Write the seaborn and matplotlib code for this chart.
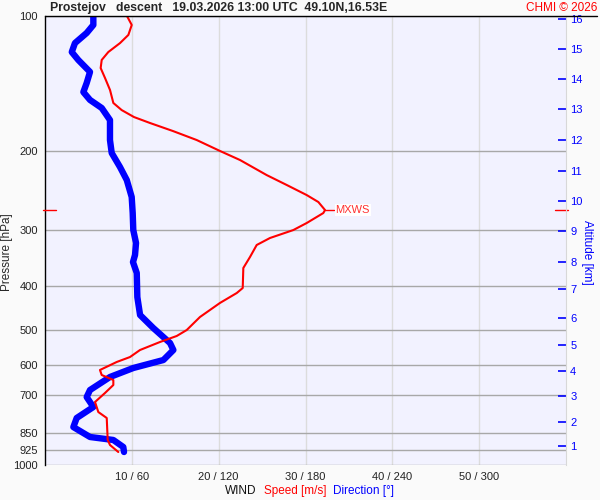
import numpy as np
import pandas as pd
import seaborn as sns
import matplotlib.pyplot as plt
from matplotlib.lines import Line2D

# Wind speed profile: pressure [hPa] / speed [m/s]
speed_p = [100, 104.7, 110.2, 114.9, 120.3, 125.3, 130.6, 137.4, 146.2, 156.2,
           162.0, 167.9, 173.1, 180.4, 188.9, 199.8, 209.3, 226.1, 237.9, 250.5,
           259.6, 270.5, 274.7, 289.1, 299.7, 312.2, 323.6, 344.1, 364.1, 403.5,
           414.0, 435.6, 468.1, 500.5, 516.0, 532.2, 554.5, 574.8, 589.6, 614.3,
           630.3, 646.7, 663.5, 691.2, 723.9, 762.1, 785.8, 879.6, 902.7, 935.5]
speed_ms = [9.44, 9.99, 9.60, 8.64, 7.29, 6.53, 6.41, 6.91, 7.49, 7.87,
            8.83, 10.25, 12.09, 14.74, 17.47, 20.15, 22.46, 25.53, 27.84, 30.14,
            31.48, 32.25, 32.05, 30.14, 28.60, 25.91, 24.38, 23.61, 22.84, 22.77,
            22.08, 20.15, 17.85, 16.32, 15.17, 13.24, 10.94, 9.79, 8.26, 6.33,
            6.53, 7.87, 7.87, 6.91, 5.76, 6.14, 7.11, 7.22, 7.49, 8.44]

# Wind direction profile: pressure [hPa] / direction [deg]
dir_p = [100, 104.7, 109.1, 114.9, 120.3, 125.3, 133.2, 141.0, 147.7, 153.8,
         160.3, 170.5, 188.9, 201.9, 216.9, 231.9, 253.0, 274.7, 299.7, 320.3,
         340.7, 353.2, 373.6, 422.6, 463.4, 495.3, 535.0, 554.5, 583.7, 608.1,
         636.8, 680.8, 705.8, 742.7, 785.8, 823.2, 866.2, 879.6, 911.9, 935.5]
dir_deg = [33.4, 33.4, 28.8, 20.7, 18.5, 23.0, 31.1, 28.8, 26.5, 31.1,
           39.2, 44.9, 44.9, 46.1, 51.8, 56.5, 59.9, 60.6, 61.0, 62.9,
           62.2, 60.8, 63.4, 63.8, 65.7, 74.8, 86.4, 88.7, 81.8, 61.0,
           44.9, 31.1, 28.8, 33.4, 21.9, 19.6, 31.1, 47.2, 54.1, 54.6]

# Altitude scale on the right
alt_km = [1, 2, 3, 4, 5, 6, 7, 8, 9, 10, 11, 12, 13, 14, 15, 16]
alt_p = [906, 801, 701, 617.4, 539.6, 469.8, 406.1, 352.6, 301.2, 258.6,
         221.1, 189.1, 161.4, 138.3, 118.6, 101.5]

p_ticks = [100, 200, 300, 400, 500, 600, 700, 850, 925, 1000]
speed_ticks = [10, 20, 30, 40, 50]

title = "Prostejov   descent   19.03.2026 13:00 UTC  49.10N,16.53E"

sns.set_style("white")
plt.rcParams["font.family"] = ["Liberation Sans", "DejaVu Sans"]

spd = pd.DataFrame({"p": speed_p, "speed": speed_ms})
wdir = pd.DataFrame({"p": dir_p, "dir": dir_deg})

fig = plt.figure(figsize=(6, 5), dpi=100, facecolor="#fafafa")
ax = fig.add_axes([45 / 600, 1 - 465 / 500, 521 / 600, 449 / 500])
ax.set_facecolor("#f2f2ff")

# direction axis (0-360) is the base, speed axis (0-60) sits on top
sns.lineplot(data=wdir, x="dir", y="p", sort=False, estimator=None, ax=ax,
             color="#0000ff", lw=4.6, solid_capstyle="round", solid_joinstyle="round")
ax.set_yscale("log")
ax.set_ylim(1000, 100)
ax.set_xlim(0, 360)
ax.set_yticks(p_ticks)
ax.set_yticklabels([str(p) for p in p_ticks])
ax.minorticks_off()
ax.set_xticks([s * 6 for s in speed_ticks])
ax.set_xticklabels([f"{s} / {s * 6}" for s in speed_ticks])
ax.tick_params(axis="both", length=0, labelsize=8, colors="#222222", pad=5)
ax.set_xlabel("")
ax.set_ylabel("Pressure [hPa]", fontsize=8.5)
ax.yaxis.set_label_coords(-0.062, 0.474)
ax.grid(axis="y", color="#a8a8a8", lw=1)
ax.grid(axis="x", color="#dcdcdc", lw=1)
ax.set_axisbelow(True)
for side in ["top", "bottom", "right"]:
    ax.spines[side].set_visible(False)
ax.spines["left"].set_color("black")
ax.spines["left"].set_linewidth(1)

ax_spd = ax.twiny()
sns.lineplot(data=spd, x="speed", y="p", sort=False, estimator=None, ax=ax_spd,
             color="#ff0000", lw=1.5)
ax_spd.set_xlim(0, 60)
ax_spd.set_xticks([])
ax_spd.set_xlabel("")
for s in ax_spd.spines.values():
    s.set_visible(False)

# altitude ticks on the right
ax_alt = ax.twinx()
ax_alt.set_yscale("log")
ax_alt.set_ylim(1000, 100)
ax_alt.minorticks_off()
ax_alt.set_yticks(alt_p)
ax_alt.set_yticklabels([str(a) for a in alt_km])
ax_alt.tick_params(axis="y", direction="in", length=6, width=1.2, colors="#0000ff",
                   labelsize=8, pad=3)
ax_alt.set_ylabel("Altitude [km]", color="#0000ff", fontsize=8.5, rotation=270)
ax_alt.yaxis.set_label_coords(1.052, 0.474)
for side in ["top", "bottom", "left"]:
    ax_alt.spines[side].set_visible(False)
ax_alt.spines["right"].set_color("#d8d8d8")

# max wind marker
i_max = int(np.argmax(speed_ms))
p_max = speed_p[i_max]
ytr = ax_spd.get_yaxis_transform()
ax_spd.plot([-0.004, 0.021], [p_max, p_max], color="#ff0000", lw=1, transform=ytr, clip_on=False)
ax_spd.plot([0.979, 1.004], [p_max, p_max], color="#ff0000", lw=1, transform=ytr, clip_on=False)
ax_spd.plot([speed_ms[i_max], speed_ms[i_max] + 1.0], [p_max, p_max], color="#ff0000", lw=1)
ax_spd.text(speed_ms[i_max] + 1.2, p_max, "MXWS", color="#ff3030", fontsize=8,
            va="center", ha="left",
            bbox=dict(facecolor="white", edgecolor="none", pad=0.6))

# top border line runs past the plot
fig.add_artist(Line2D([45 / 600, 597 / 600], [1 - 16 / 500] * 2, color="black", lw=1))

fig.text(50 / 600, 1 - 8 / 500, title, fontsize=8.8, fontweight="bold", va="center", ha="left")
fig.text(597 / 600, 1 - 8 / 500, "CHMI © 2026", fontsize=8.5, color="#ff0000",
         va="center", ha="right")

fig.text(225 / 600, 1 - 491 / 500, "WIND", fontsize=8.5, color="#111111", va="center")
fig.text(264 / 600, 1 - 491 / 500, "Speed [m/s]", fontsize=8.5, color="#ff0000", va="center")
fig.text(333 / 600, 1 - 491 / 500, "Direction [°]", fontsize=8.5, color="#0000ff", va="center")

fig.savefig("out.png", dpi=100, facecolor=fig.get_facecolor())
